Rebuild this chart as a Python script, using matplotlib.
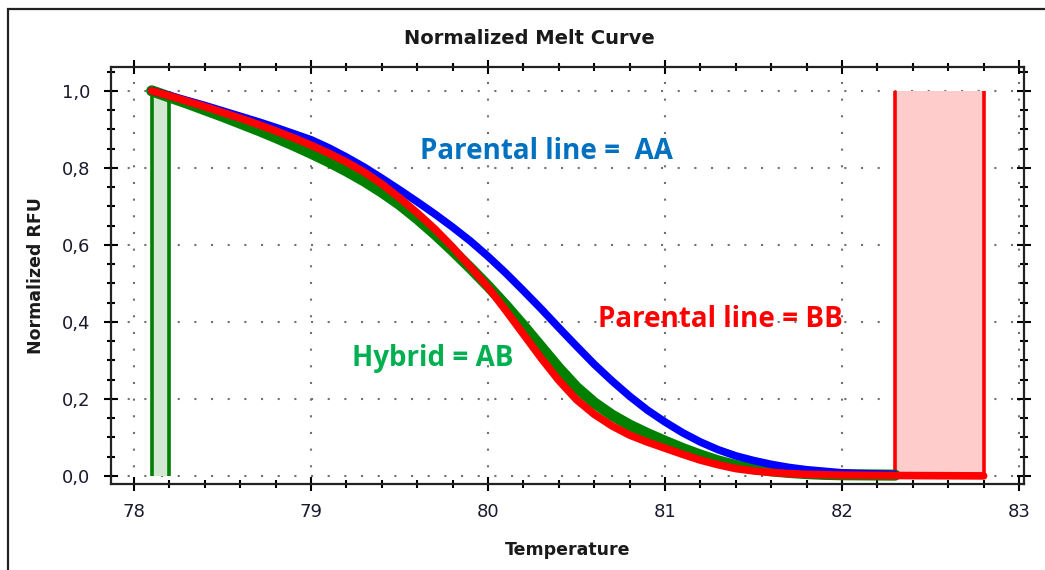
import matplotlib.pyplot as plt
import numpy as np
from matplotlib.ticker import MultipleLocator, FuncFormatter
from matplotlib.patches import Rectangle

# values (0.1 degree steps)
temp_aa = [78.1, 78.2, 78.3, 78.4, 78.5, 78.6, 78.7, 78.8, 78.9, 79.0,
           79.1, 79.2, 79.3, 79.4, 79.5, 79.6, 79.7, 79.8, 79.9, 80.0,
           80.1, 80.2, 80.3, 80.4, 80.5, 80.6, 80.7, 80.8, 80.9, 81.0,
           81.1, 81.2, 81.3, 81.4, 81.5, 81.6, 81.7, 81.8, 81.9, 82.0,
           82.1, 82.2, 82.3]
rfu_aa = [1.000, 0.988, 0.975, 0.962, 0.948, 0.934, 0.920, 0.905, 0.889, 0.873,
          0.852, 0.828, 0.802, 0.773, 0.743, 0.712, 0.680, 0.646, 0.610, 0.570,
          0.527, 0.481, 0.434, 0.385, 0.337, 0.290, 0.247, 0.207, 0.171, 0.140,
          0.112, 0.088, 0.068, 0.052, 0.040, 0.030, 0.022, 0.016, 0.012, 0.008,
          0.006, 0.005, 0.004]

temp_bb = [78.1, 78.2, 78.3, 78.4, 78.5, 78.6, 78.7, 78.8, 78.9, 79.0,
           79.1, 79.2, 79.3, 79.4, 79.5, 79.6, 79.7, 79.8, 79.9, 80.0,
           80.1, 80.2, 80.3, 80.4, 80.5, 80.6, 80.7, 80.8, 80.9, 81.0,
           81.1, 81.2, 81.3, 81.4, 81.5, 81.6, 81.7, 81.8, 81.9, 82.0,
           82.3, 82.8]
rfu_bb = [1.000, 0.987, 0.973, 0.959, 0.944, 0.929, 0.913, 0.896, 0.878, 0.859,
          0.838, 0.815, 0.789, 0.758, 0.722, 0.683, 0.641, 0.594, 0.543, 0.490,
          0.430, 0.368, 0.306, 0.248, 0.198, 0.160, 0.130, 0.106, 0.088, 0.072,
          0.056, 0.041, 0.029, 0.019, 0.013, 0.009, 0.006, 0.004, 0.003, 0.002,
          0.001, 0.000]

temp_ab = [78.1, 78.2, 78.3, 78.4, 78.5, 78.6, 78.7, 78.8, 78.9, 79.0,
           79.1, 79.2, 79.3, 79.4, 79.5, 79.6, 79.7, 79.8, 79.9, 80.0,
           80.1, 80.2, 80.3, 80.4, 80.5, 80.6, 80.7, 80.8, 80.9, 81.0,
           81.1, 81.2, 81.3, 81.4, 81.5, 81.6, 81.7, 81.8, 81.9, 82.0,
           82.3]
rfu_ab = [1.000, 0.984, 0.968, 0.951, 0.934, 0.916, 0.898, 0.879, 0.859, 0.838,
          0.816, 0.792, 0.766, 0.737, 0.705, 0.668, 0.628, 0.585, 0.540, 0.493,
          0.443, 0.390, 0.335, 0.280, 0.230, 0.190, 0.158, 0.132, 0.110, 0.090,
          0.071, 0.054, 0.039, 0.027, 0.019, 0.013, 0.009, 0.006, 0.004, 0.003,
          0.002]

green_band = (78.1, 78.2)
red_band = (82.3, 82.8)

x_ticks = [78, 79, 80, 81, 82, 83]
y_ticks = [0.0, 0.2, 0.4, 0.6, 0.8, 1.0]

fig = plt.figure(figsize=(10.45, 5.70), dpi=100)
ax = fig.add_axes([0.1062, 0.1509, 0.8737, 0.7316])

# outer frame (only top and left edges fall inside the picture)
fig.patches.append(Rectangle((8 / 1045, -0.2), 1.2, 1.2 - 9 / 570,
                             transform=fig.transFigure, fill=False,
                             edgecolor='#222222', linewidth=1.6))

# shaded melt regions
ax.fill_between(green_band, 0, 1.0, color='#d2e8d2', linewidth=0, zorder=1)
ax.vlines(green_band, 0, 1.0, color='#008000', linewidth=2.6, zorder=2)
ax.fill_between(red_band, 0, 1.0, color='#ffcccc', linewidth=0, zorder=1)
ax.vlines(red_band, 0, 1.0, color='#ff0000', linewidth=2.6, zorder=2)

ax.plot(temp_ab, rfu_ab, color='#008000', linewidth=8, solid_capstyle='round',
        solid_joinstyle='round', zorder=3)
ax.plot(temp_aa, rfu_aa, color='#0000ff', linewidth=5.5, solid_capstyle='round',
        solid_joinstyle='round', zorder=3)
ax.plot(temp_bb, rfu_bb, color='#ff0000', linewidth=5.5, solid_capstyle='round',
        solid_joinstyle='round', zorder=4)

ax.set_xlim(77.87, 83.028)
ax.set_ylim(-0.021, 1.062)
ax.set_xticks(x_ticks)
ax.set_yticks(y_ticks)
ax.xaxis.set_minor_locator(MultipleLocator(0.2))
ax.yaxis.set_minor_locator(MultipleLocator(0.05))
ax.yaxis.set_major_formatter(FuncFormatter(lambda v, p: f"{v:.1f}".replace('.', ',')))

ax.tick_params(which='both', direction='inout', top=True, right=True,
               labelsize=13, labelcolor='#1a1a2e', width=1.5)
ax.tick_params(which='major', length=10)
ax.tick_params(axis='y', which='major', pad=10)
ax.tick_params(axis='x', which='major', pad=9)
ax.tick_params(which='minor', length=6)
for s in ax.spines.values():
    s.set_linewidth(1.6)
    s.set_color('#222222')

ax.grid(True, which='major', color='#707070', linestyle=(0, (1, 7)), linewidth=1.5)
ax.set_axisbelow(True)

ax.set_xlabel('Temperature', fontsize=12.5, fontweight='bold', labelpad=14,
              color='#1a1a1a')
ax.set_ylabel('Normalized RFU', fontsize=12.5, fontweight='bold', labelpad=12,
              color='#1a1a1a')
fig.text(0.507, 0.933, 'Normalized Melt Curve', fontsize=14, fontweight='bold',
         ha='center', va='center', color='#1a1a1a')

ax.text(79.616, 0.842, 'Parental line =  AA', color='#0070c0', fontsize=20,
        fontweight='bold', family='Open Sans', va='center', zorder=5)
ax.text(80.62, 0.405, 'Parental line = BB', color='#ff0000', fontsize=20,
        fontweight='bold', family='Open Sans', va='center', zorder=5)
ax.text(79.23, 0.306, 'Hybrid = AB', color='#00b050', fontsize=20,
        fontweight='bold', family='Open Sans', va='center', zorder=5)

fig.savefig('out.png', dpi=100)
